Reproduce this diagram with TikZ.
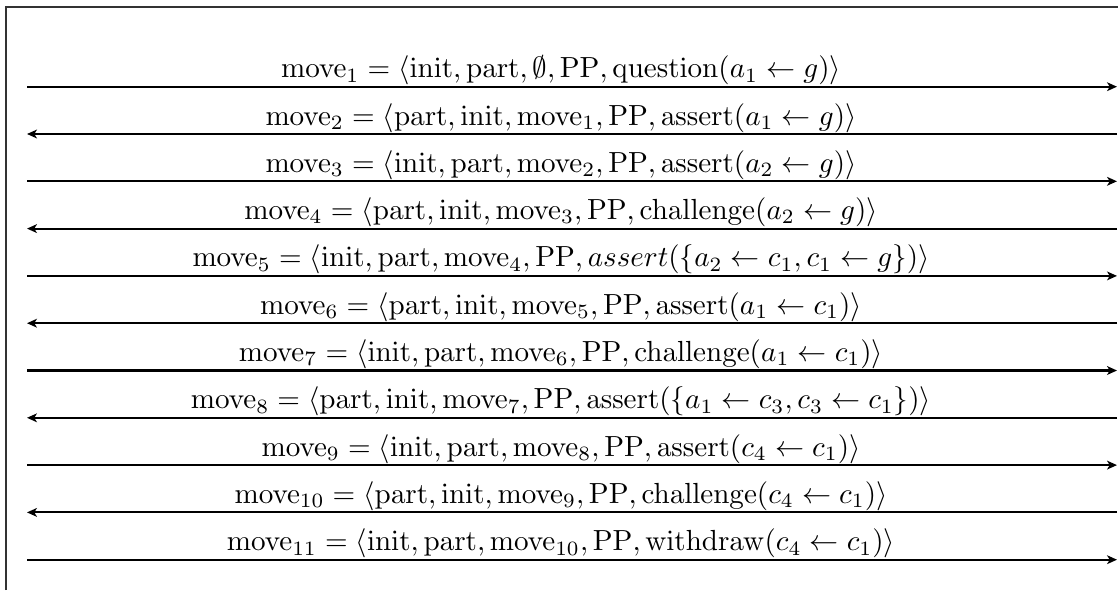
\documentclass[tikz,border=0pt]{standalone}
\usetikzlibrary{arrows.meta}
\newcommand{\mv}[1]{\mathrm{move}_{#1}}
\newcommand{\rmm}[1]{\mathrm{#1}}
\begin{document}
\begin{tikzpicture}[x=0.01208cm,y=-0.01208cm,
  frame/.style={line width=0.4pt,draw=black!80},
  msg/.style={line width=0.7pt,-{Stealth[length=3.4pt,width=3pt,inset=0.9pt]}},
  lbl/.style={anchor=base,inner sep=0pt}]
\useasboundingbox (0,0) rectangle (1118,590);
\coordinate (tl) at (6,7);
\coordinate (tr) at (1118,7);
\coordinate (bl) at (6,590);
\draw[frame] (bl) -- (tl) -- (tr);
\foreach \i in {1,...,11}{
  \pgfmathsetmacro{\yy}{86.7+47.3*(\i-1)}
  \coordinate (L\i) at (27,\yy);
  \coordinate (R\i) at (1117,\yy);
  \coordinate (T\i) at (561,\yy-9);
}
\foreach \i in {1,3,5,7,9,11}{\draw[msg] (L\i) -- (R\i);}
\foreach \i in {2,4,6,8,10}{\draw[msg] (R\i) -- (L\i);}
\node[lbl] (m1) at (T1) {$\mv{1} = \langle\rmm{init},\rmm{part},\emptyset,\rmm{PP},\rmm{question}(a_1\leftarrow g)\rangle$};
\node[lbl] (m2) at (T2) {$\mv{2} = \langle\rmm{part},\rmm{init},\mv{1},\rmm{PP},\rmm{assert}(a_1\leftarrow g)\rangle$};
\node[lbl] (m3) at (T3) {$\mv{3} = \langle\rmm{init},\rmm{part},\mv{2},\rmm{PP},\rmm{assert}(a_2\leftarrow g)\rangle$};
\node[lbl] (m4) at (T4) {$\mv{4} = \langle\rmm{part},\rmm{init},\mv{3},\rmm{PP},\rmm{challenge}(a_2\leftarrow g)\rangle$};
\node[lbl] (m5) at (T5) {$\mv{5} = \langle\rmm{init},\rmm{part},\mv{4},\rmm{PP},assert(\{a_2\leftarrow c_1,c_1\leftarrow g\})\rangle$};
\node[lbl] (m6) at (T6) {$\mv{6} = \langle\rmm{part},\rmm{init},\mv{5},\rmm{PP},\rmm{assert}(a_1\leftarrow c_1)\rangle$};
\node[lbl] (m7) at (T7) {$\mv{7} = \langle\rmm{init},\rmm{part},\mv{6},\rmm{PP},\rmm{challenge}(a_1\leftarrow c_1)\rangle$};
\node[lbl] (m8) at (T8) {$\mv{8} = \langle\rmm{part},\rmm{init},\mv{7},\rmm{PP},\rmm{assert}(\{a_1\leftarrow c_3,c_3\leftarrow c_1\})\rangle$};
\node[lbl] (m9) at (T9) {$\mv{9} = \langle\rmm{init},\rmm{part},\mv{8},\rmm{PP},\rmm{assert}(c_4\leftarrow c_1)\rangle$};
\node[lbl] (m10) at (T10) {$\mv{10} = \langle\rmm{part},\rmm{init},\mv{9},\rmm{PP},\rmm{challenge}(c_4\leftarrow c_1)\rangle$};
\node[lbl] (m11) at (T11) {$\mv{11} = \langle\rmm{init},\rmm{part},\mv{10},\rmm{PP},\rmm{withdraw}(c_4\leftarrow c_1)\rangle$};
\end{tikzpicture}
\end{document}
